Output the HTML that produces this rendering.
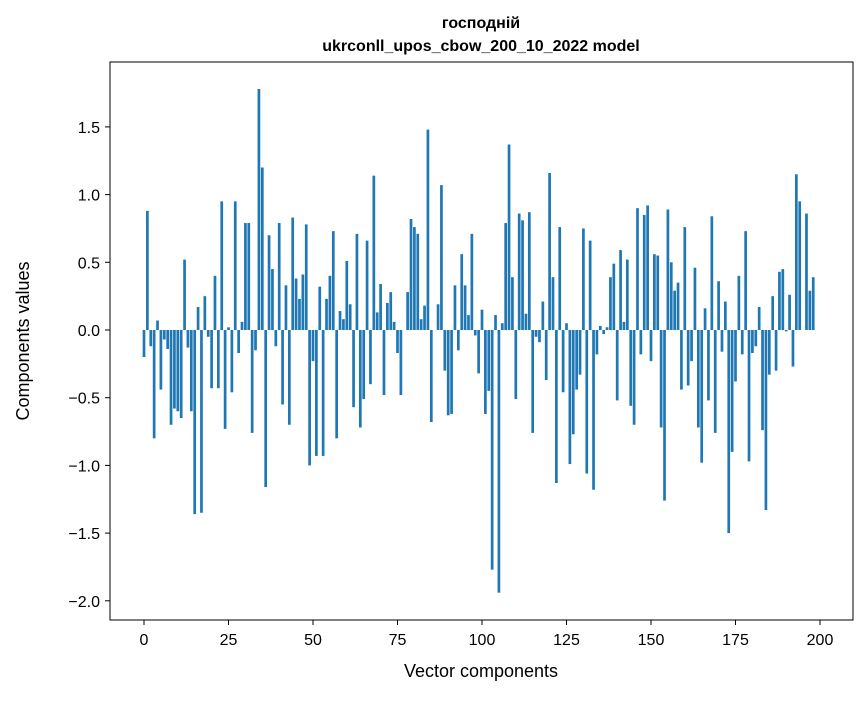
<!DOCTYPE html>
<html><head><meta charset="utf-8"><style>
body{margin:0;background:#fff;width:867px;height:696px;overflow:hidden;font-family:"Liberation Sans","DejaVu Sans",sans-serif;}
</style></head><body>
<svg id="chart" width="867" height="696" xmlns="http://www.w3.org/2000/svg" font-family="Liberation Sans, DejaVu Sans, sans-serif">
<text x="481" y="28" text-anchor="middle" font-size="16" font-weight="bold">господній</text>
<text x="481" y="51" text-anchor="middle" font-size="16" font-weight="bold">ukrconll_upos_cbow_200_10_2022 model</text>
<g id="bars"></g>
<g id="axes"></g>
<rect x="110" y="62" width="743" height="558" fill="none" stroke="#000" stroke-width="1"/>
<text x="481" y="677" text-anchor="middle" font-size="18">Vector components</text>
<text transform="translate(29,341) rotate(-90)" text-anchor="middle" font-size="18">Components values</text>
</svg>
<script>
const values=[-0.2,0.88,-0.12,-0.8,0.07,-0.44,-0.07,-0.14,-0.7,-0.58,-0.6,-0.65,0.52,-0.13,-0.6,-1.36,0.17,-1.35,0.25,-0.05,-0.43,0.4,-0.43,0.95,-0.73,0.02,-0.46,0.95,-0.17,0.06,0.79,0.79,-0.76,-0.15,1.78,1.2,-1.16,0.7,0.45,-0.12,0.79,-0.55,0.33,-0.7,0.83,0.38,0.23,0.41,0.78,-1.0,-0.23,-0.93,0.32,-0.93,0.23,0.4,0.73,-0.8,0.14,0.08,0.51,0.19,-0.57,0.71,-0.72,-0.51,0.66,-0.4,1.14,0.13,0.34,-0.48,0.2,0.28,0.06,-0.17,-0.48,0.0,0.28,0.82,0.76,0.71,0.08,0.18,1.48,-0.68,0.0,0.19,1.07,-0.3,-0.63,-0.62,0.33,-0.15,0.56,0.33,0.11,0.71,-0.04,-0.32,0.15,-0.62,-0.45,-1.77,0.11,-1.94,0.05,0.79,1.37,0.39,-0.51,0.86,0.81,0.12,0.87,-0.76,-0.05,-0.09,0.21,-0.37,1.16,0.39,-1.13,0.76,-0.46,0.05,-0.99,-0.77,-0.44,-0.33,0.75,-1.06,0.66,-1.18,-0.18,0.03,-0.03,0.02,0.39,0.49,-0.52,0.59,0.06,0.52,-0.56,-0.7,0.9,-0.18,0.85,0.92,-0.23,0.56,0.55,-0.72,-1.26,0.89,0.5,0.29,0.35,-0.44,0.76,-0.41,-0.23,0.46,-0.72,-0.98,0.16,-0.52,0.84,-0.76,0.36,-0.16,0.21,-1.5,-0.9,-0.38,0.4,-0.18,0.73,-0.97,-0.17,-0.12,0.17,-0.74,-1.33,-0.33,0.25,-0.3,0.43,0.45,-0.01,0.26,-0.27,1.15,0.95,0.0,0.86,0.29,0.39];
const xTicks=[0,25,50,75,100,125,150,175,200];
const yTicks=[-2.0,-1.5,-1.0,-0.5,0.0,0.5,1.0,1.5];
const NS="http://www.w3.org/2000/svg";
function xs(v){return 144+v*3.38;}
function ys(v){return 330-v*135.4;}
const bars=document.getElementById('bars'),axes=document.getElementById('axes');
values.forEach((v,i)=>{
 const r=document.createElementNS(NS,'rect');
 
 
 const w=0.8*3.38;
 r.setAttribute('x',xs(i)-w/2);r.setAttribute('width',w);
 r.setAttribute('y',Math.min(ys(v),ys(0)));r.setAttribute('height',Math.abs(ys(v)-ys(0)));
 r.setAttribute('fill','#1f77b4');bars.appendChild(r);
});
xTicks.forEach(t=>{
 const l=document.createElementNS(NS,'line');
 
 
 l.setAttribute('x1',xs(t));l.setAttribute('x2',xs(t));l.setAttribute('y1',620);l.setAttribute('y2',625);l.setAttribute('stroke','#000');axes.appendChild(l);
 const tx=document.createElementNS(NS,'text');
 
 
 tx.setAttribute('x',xs(t));tx.setAttribute('y',645);tx.setAttribute('text-anchor','middle');tx.setAttribute('font-size','16');tx.textContent=t;axes.appendChild(tx);
});
yTicks.forEach(t=>{
 const l=document.createElementNS(NS,'line');
 
 
 l.setAttribute('x1',105);l.setAttribute('x2',110);l.setAttribute('y1',ys(t));l.setAttribute('y2',ys(t));l.setAttribute('stroke','#000');axes.appendChild(l);
 const tx=document.createElementNS(NS,'text');
 
 
 tx.setAttribute('x',100);tx.setAttribute('y',ys(t)+6);tx.setAttribute('text-anchor','end');tx.setAttribute('font-size','16');tx.textContent=(t<0?'\u2212':'')+Math.abs(t).toFixed(1);axes.appendChild(tx);
});
</script>
</body></html>
